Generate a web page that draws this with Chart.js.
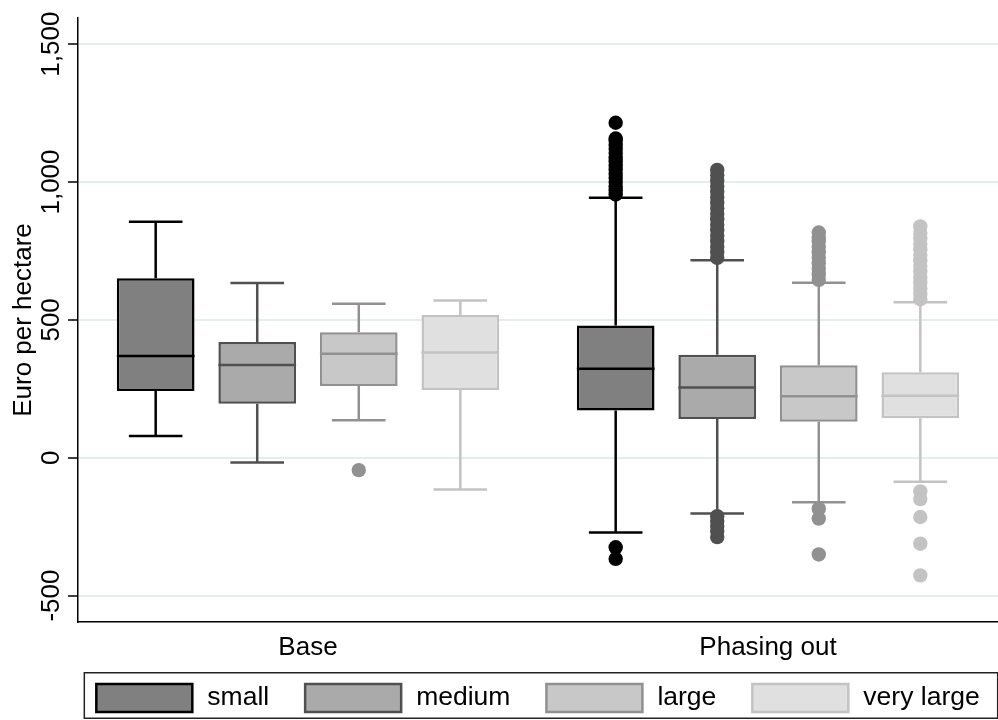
<!DOCTYPE html>
<html>
<head>
<meta charset="utf-8">
<script src="https://cdn.jsdelivr.net/npm/chart.js@4.4.1/dist/chart.umd.min.js"></script>
<style>
  html, body { margin: 0; padding: 0; background: #fff; }
  #wrap { width: 998px; height: 720px; }
</style>
</head>
<body>
<div id="wrap"><canvas id="box-chart"></canvas></div>
<script>
// categories and series
var categories = ['Base', 'Phasing out'];
var seriesNames = ['small', 'medium', 'large', 'very large'];

// box statistics, one row per series: [Base, Phasing out]
var lowerWhisker = [[79, -271], [-17, -202], [136, -162], [-115, -87]];
var quartile1    = [[242, 171], [196, 140], [260, 130], [246, 143]];
var median       = [[369, 323], [336, 255], [377, 223], [382, 225]];
var quartile3    = [[651, 480], [420, 373], [455, 335], [518, 310]];
var upperWhisker = [[856, 943], [634, 716], [558, 635], [570, 564]];

// outside values, per series: [Base, Phasing out]
var outSmall = [[], [955, 970, 985, 1000, 1015, 1030, 1045, 1060, 1075, 1090, 1105, 1120, 1135, 1150, 1158, 1215, -325, -367]];
var outMedium = [[], [725, 745, 765, 785, 805, 825, 845, 865, 885, 905, 925, 945, 965, 985, 1005, 1025, 1044, -212, -230, -248, -266, -288]];
var outLarge = [[-45], [645, 665, 685, 705, 725, 745, 765, 785, 800, 817, -185, -221, -351]];
var outVeryLarge = [[], [575, 595, 615, 635, 655, 675, 695, 715, 735, 755, 775, 795, 815, 839, -122, -150, -215, -312, -427]];
var outliers = [outSmall, outMedium, outLarge, outVeryLarge];

var yTicks = [-500, 0, 500, 1000, 1500];
var yTickText = ['-500', '0', '500', '1,000', '1,500'];

var fillColors = ['#808080', '#aaaaaa', '#c8c8c8', '#e0e0e0'];
var lineColors = ['#000000', '#505050', '#919191', '#c3c3c3'];

var FONT = 'Liberation Sans, Arial, Helvetica, sans-serif';

// whiskers, medians, outside values, tick labels and the framed legend
var boxPlot = {
    id: 'boxPlot',
    beforeDatasetsDraw: function (chart) {
        var ctx = chart.ctx, y = chart.scales.y;
        ctx.save();
        ctx.lineWidth = 2.5;
        for (var s = 0; s < seriesNames.length; s++) {
            var bars = chart.getDatasetMeta(s).data;
            ctx.strokeStyle = lineColors[s];
            for (var i = 0; i < bars.length; i++) {
                var x = bars[i].x, half = bars[i].width * 0.345;
                var yUp = y.getPixelForValue(upperWhisker[s][i]);
                var yLo = y.getPixelForValue(lowerWhisker[s][i]);
                ctx.beginPath();
                ctx.moveTo(x, y.getPixelForValue(quartile3[s][i]));
                ctx.lineTo(x, yUp);
                ctx.moveTo(x, y.getPixelForValue(quartile1[s][i]));
                ctx.lineTo(x, yLo);
                ctx.moveTo(x - half, yUp);
                ctx.lineTo(x + half, yUp);
                ctx.moveTo(x - half, yLo);
                ctx.lineTo(x + half, yLo);
                ctx.stroke();
            }
        }
        ctx.restore();
    },
    afterDatasetsDraw: function (chart) {
        var ctx = chart.ctx, y = chart.scales.y;
        ctx.save();
        for (var s = 0; s < seriesNames.length; s++) {
            var bars = chart.getDatasetMeta(s).data;
            for (var i = 0; i < bars.length; i++) {
                var x = bars[i].x, w = bars[i].width;
                var ym = y.getPixelForValue(median[s][i]);
                ctx.strokeStyle = lineColors[s];
                ctx.lineWidth = 2.5;
                ctx.beginPath();
                ctx.moveTo(x - w / 2, ym);
                ctx.lineTo(x + w / 2, ym);
                ctx.stroke();
                ctx.fillStyle = lineColors[s];
                outliers[s][i].forEach(function (v) {
                    ctx.beginPath();
                    ctx.arc(x, y.getPixelForValue(v), 7.2, 0, Math.PI * 2);
                    ctx.fill();
                });
            }
        }
        ctx.restore();
    },
    afterDraw: function (chart) {
        var ctx = chart.ctx, y = chart.scales.y, area = chart.chartArea;
        ctx.save();
        ctx.fillStyle = '#000';
        ctx.font = '26px ' + FONT;
        // rotated y tick labels
        for (var t = 0; t < yTicks.length; t++) {
            ctx.save();
            ctx.translate(area.left - 19, y.getPixelForValue(yTicks[t]));
            ctx.rotate(-Math.PI / 2);
            ctx.textAlign = 'center';
            ctx.textBaseline = 'alphabetic';
            ctx.fillText(yTickText[t], 0, 0);
            ctx.restore();
        }

        // legend: one row, centred under the plot region, inside a frame
        var boxW = 96, boxH = 28, textGap = 15, itemGap = 36;
        ctx.font = '26.5px ' + FONT;
        var widths = seriesNames.map(function (n) { return ctx.measureText(n).width; });
        var rowW = 0;
        widths.forEach(function (w) { rowW += boxW + textGap + w; });
        rowW += itemGap * (seriesNames.length - 1);
        var legendTop = area.bottom + chart.scales.x.height;
        var x0 = (area.left + area.right) / 2 - rowW / 2;
        var yBox = legendTop + 12;

        ctx.strokeStyle = '#222';
        ctx.lineWidth = 1.5;
        ctx.strokeRect(x0 - 12, legendTop + 0.75, rowW + 30, chart.height - legendTop - 2.5);

        var cx = x0;
        for (var k = 0; k < seriesNames.length; k++) {
            ctx.fillStyle = fillColors[k];
            ctx.fillRect(cx, yBox, boxW, boxH);
            ctx.strokeStyle = lineColors[k];
            ctx.lineWidth = 2.5;
            ctx.strokeRect(cx, yBox, boxW, boxH);
            ctx.fillStyle = '#000';
            ctx.textAlign = 'left';
            ctx.textBaseline = 'middle';
            ctx.fillText(seriesNames[k], cx + boxW + textGap, yBox + boxH / 2);
            cx += boxW + textGap + widths[k] + itemGap;
        }
        ctx.restore();
    }
};

var datasets = [];
for (var s = 0; s < seriesNames.length; s++) {
    var boxes = [];
    for (var i = 0; i < categories.length; i++) {
        boxes.push([quartile1[s][i], quartile3[s][i]]);
    }
    datasets.push({
        label: seriesNames[s],
        data: boxes,
        backgroundColor: fillColors[s],
        borderColor: lineColors[s],
        borderWidth: 2.5,
        borderSkipped: false,
        categoryPercentage: 0.883,
        barPercentage: 0.765
    });
}

var canvas = document.getElementById('box-chart').getContext('2d');
var boxChart = new Chart(canvas, {
    type: 'bar',
    data: { labels: categories, datasets: datasets },
    plugins: [boxPlot],
    options: {
        responsive: true,
        maintainAspectRatio: false,
        animation: false,
        layout: { padding: { left: 0, top: 18, right: -4, bottom: 48 } },
        plugins: {
            tooltip: { enabled: false },
            legend: { display: false }
        },
        scales: {
            x: {
                grid: { display: false, drawTicks: false },
                border: { display: true, color: '#000', width: 1.5 },
                ticks: { color: '#000', padding: 10, font: { family: FONT, size: 26 } },
                afterFit: function (scale) { scale.height = 50; }
            },
            y: {
                min: -596,
                max: 1595,
                afterBuildTicks: function (scale) {
                    scale.ticks = yTicks.map(function (v) { return { value: v }; });
                },
                ticks: { display: false },
                title: {
                    display: true,
                    text: 'Euro per hectare',
                    color: '#000',
                    padding: { top: 8, bottom: 0 },
                    font: { family: FONT, size: 26 }
                },
                grid: { color: '#e4eef1', lineWidth: 2, tickColor: '#000', tickWidth: 1.5, tickLength: 10 },
                border: { display: true, color: '#000', width: 1.5 },
                afterFit: function (scale) { scale.width = 78; }
            }
        }
    }
});
</script>
</body>
</html>
